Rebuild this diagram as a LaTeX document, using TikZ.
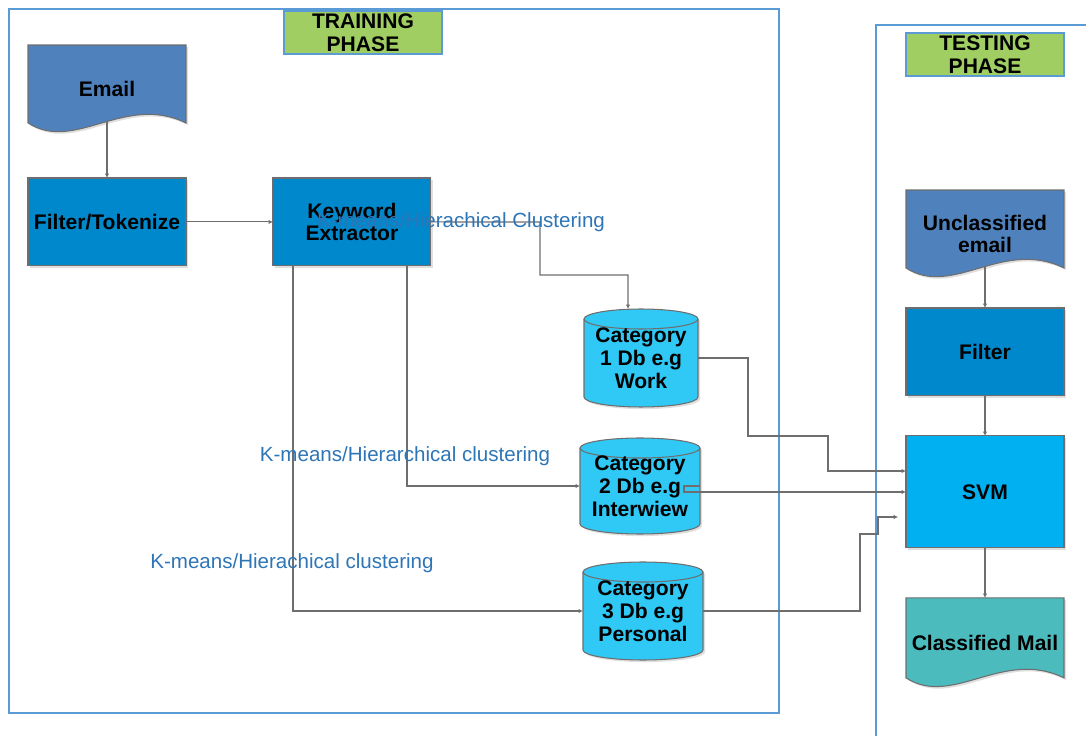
\documentclass[tikz,border=0pt]{standalone}
\usepackage{fontspec}
\setmainfont{Liberation Sans}
\usetikzlibrary{positioning,arrows.meta,shadows,backgrounds}

\definecolor{docblue}{RGB}{79,129,189}
\definecolor{procblue}{RGB}{0,136,204}
\definecolor{svmblue}{RGB}{0,176,240}
\definecolor{dbcyan}{RGB}{48,200,245}
\definecolor{mailteal}{RGB}{75,187,190}
\definecolor{phasegreen}{RGB}{160,206,98}
\definecolor{frameblue}{RGB}{91,155,213}
\definecolor{lblblue}{RGB}{46,117,182}
\definecolor{linegray}{RGB}{110,110,110}

\tikzset{
softshadow/.style={drop shadow={shadow xshift=1.2pt,shadow yshift=-1.2pt,fill=black!25,opacity=0.5}},
boxtext/.style={font=\fontsize{12}{13}\selectfont\bfseries,align=center,inner sep=0pt,outer sep=0pt},
process/.style={boxtext,draw=linegray,line width=0.6pt,minimum width=3.16cm,minimum height=1.76cm,softshadow},
docnode/.style={boxtext,minimum width=3.16cm,minimum height=1.76cm},
dbnode/.style={boxtext,minimum height=1.96cm},
phase/.style={boxtext,draw=frameblue,fill=phasegreen,line width=0.8pt,minimum width=3.16cm,minimum height=0.86cm},
frame/.style={draw=frameblue,line width=0.9pt},
conn/.style={draw=linegray,line width=0.6pt,-{Latex[length=2.5pt,width=2.5pt]}},
cluster/.style={font=\fontsize{11.7}{13}\selectfont,text=lblblue,inner sep=0pt},
}

% document shape with a wavy bottom
\newcommand{\docshape}[2]{%
\filldraw[draw=linegray,line width=0.6pt,fill=#2,softshadow] (#1.north west) -- (#1.north east) -- ([yshift=0.2cm]#1.south east)
.. controls +(-1.22cm,0.6cm) and +(0.94cm,-0.6cm) .. ([yshift=0.2cm]#1.south west) -- cycle;}
% database cylinder
\newcommand{\dbshape}[2]{%
\filldraw[draw=linegray,line width=0.6pt,fill=dbcyan,softshadow] ([yshift=-0.2cm]#1.north west) -- ([yshift=0.2cm]#1.south west)
arc[start angle=180,end angle=360,x radius=#2,y radius=0.2cm] -- ([yshift=-0.2cm]#1.north east)
arc[start angle=0,end angle=180,x radius=#2,y radius=0.2cm] -- cycle;
\draw[draw=linegray,line width=0.6pt] ([yshift=-0.2cm]#1.north west) arc[start angle=180,end angle=360,x radius=#2,y radius=0.2cm];}

\begin{document}
\begin{tikzpicture}[x=0.02cm,y=-0.02cm]
\useasboundingbox (0,0) rectangle (1086,736);

\draw[frame] (9,9) rectangle (779,713);
\draw[frame] (1086,25) -- (876,25) -- (876,736);
\node[phase] (trn) at (363,32.5) {TRAINING\\PHASE};
\node[phase] (tst) at (985,54.5) {TESTING\\PHASE};

%training
\node[docnode] (em) at (107,89) {Email};
\node[process,fill=procblue,below=0.9cm of em] (ft) {Filter/Tokenize};
\node[process,fill=procblue,right=1.74cm of ft] (kw) {Keyword\\Extractor};
\node[dbnode,minimum width=2.28cm] (c1) at (641,358) {Category\\1 Db e.g\\Work};
\node[dbnode,minimum width=2.4cm,minimum height=1.92cm] (c2) at (640,486) {Category\\2 Db e.g\\Interwiew};
\node[dbnode,minimum width=2.4cm] (c3) at (643,611) {Category\\3 Db e.g\\Personal};

%testing
\node[docnode] (ue) at (985,234) {Unclassified\\email};
\node[process,fill=procblue,below=0.6cm of ue] (flt) {Filter};
\node[process,fill=svmblue,below=0.8cm of flt,minimum height=2.24cm] (svm) {SVM};
\node[docnode,minimum height=1.8cm,below=1cm of svm] (cm) {Classified Mail};

\begin{scope}[on background layer]
\docshape{em}{docblue}
\docshape{ue}{docblue}
\docshape{cm}{mailteal}
\dbshape{c1}{1.14cm}
\dbshape{c2}{1.2cm}
\dbshape{c3}{1.2cm}
\end{scope}

\draw[conn] ([yshift=0.22cm]em.south) -- (ft);
\draw[conn] (ft) -- (kw);
\draw[conn] (kw.east) -- (540,222) |- (628,275) -- (c1.north -| 628,0);
\draw[conn] (kw.south -| 407,0) |- (c2.west);
\draw[conn] (kw.south -| 293,0) |- (c3.west);
\draw[conn] (c1.east) -- (748,358) -- (748,436) -- (828,436) |- (svm.west |- 0,471);
\draw[conn] (c2.east) -- (c2.east -| 684,0) -- (684,492) -- (svm.west |- 0,492);
\draw[conn,shorten >=4.5pt] (c3.east) -| (860,534) -| (878,517) -- (svm.west |- 0,517);
\draw[conn] ([yshift=0.22cm]ue.south) -- (flt);
\draw[conn] (flt) -- (svm);
\draw[conn] (svm) -- (cm);

\node[cluster] (lb1) at (461,222) {K-means/Hierachical Clustering};
\node[cluster] (lb2) at (405,456) {K-means/Hierarchical clustering};
\node[cluster] (lb3) at (292,563) {K-means/Hierachical clustering};
\end{tikzpicture}
\end{document}
